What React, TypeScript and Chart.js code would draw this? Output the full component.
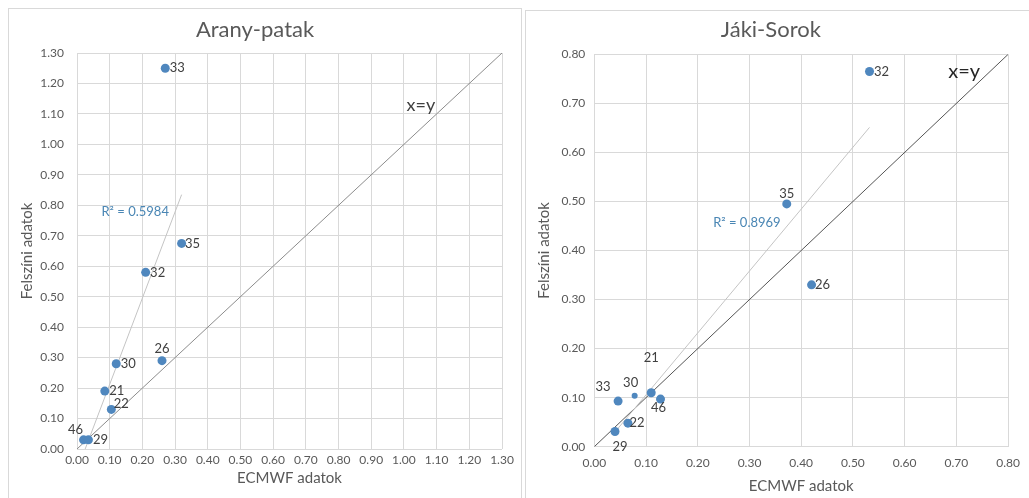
import React, { useEffect, useRef } from "react";
import { Chart, registerables } from "chart.js";
Chart.register(...registerables);

// ---------- shared texts ----------
const xAxisTitle = "ECMWF adatok";
const yAxisTitle = "Felszíni adatok";
const identityLabel = "x=y";
const tickStep = 0.1;

// ---------- Arany-patak ----------
const aranyTitle = "Arany-patak";
const aranyStations = ["33", "35", "32", "26", "30", "21", "22", "46", "29"];
const aranyEcmwf = [0.27, 0.32, 0.21, 0.26, 0.12, 0.085, 0.105, 0.02, 0.035];
const aranySurface = [1.25, 0.675, 0.58, 0.29, 0.28, 0.19, 0.13, 0.03, 0.03];
const aranyTrendX = [0.025, 0.32];
const aranyTrendY = [0, 0.835];
const aranyR2 = "R² = 0.5984";
const aranyAxisMax = 1.3;

// ---------- Jáki-Sorok ----------
const jakiTitle = "Jáki-Sorok";
const jakiStations = ["32", "35", "26", "33", "30", "21", "46", "22", "29"];
const jakiEcmwf = [0.532, 0.372, 0.42, 0.046, 0.078, 0.11, 0.128, 0.065, 0.04];
const jakiSurface = [0.765, 0.495, 0.33, 0.093, 0.104, 0.11, 0.097, 0.048, 0.031];
const jakiTrendX = [0.04, 0.532];
const jakiTrendY = [0.03, 0.651];
const jakiR2 = "R² = 0.8969";
const jakiAxisMax = 0.8;

const FONT = "Lato";
const TICK_COLOR = "#595959";
const GRID_COLOR = "#d9d9d9";
const POINT_COLOR = "#4f87be";
const TITLE_SIZE = 22;

type PanelCfg = {
  title: string;
  stations: string[];
  xs: number[];
  ys: number[];
  trendX: number[];
  trendY: number[];
  r2: string;
  max: number;
  left: number;
  top: number;
  width: number;
  height: number;
  padRight: number;
  yWidth: number;
  xHeight: number;
  titleTop: number;
  titleBottom: number;
  xTickPad: number;
  xTitlePad: number;
  yTickPad: number;
  yTitlePad: number;
  labelOffsets: number[][];
  pointRadii: number[];
  r2At: number[];
  idAt: number[];
  idFont: string;
  idColor: string;
  diagColor: string;
};

const aranyCfg: PanelCfg = {
  title: aranyTitle,
  stations: aranyStations,
  xs: aranyEcmwf,
  ys: aranySurface,
  trendX: aranyTrendX,
  trendY: aranyTrendY,
  r2: aranyR2,
  max: aranyAxisMax,
  left: 8,
  top: 8,
  width: 513,
  height: 492,
  padRight: 19,
  yWidth: 69,
  xHeight: 51,
  titleTop: 8.5,
  titleBottom: 45 - 8.5 - TITLE_SIZE * 1.2,
  xTickPad: 4,
  xTitlePad: 12.6,
  yTickPad: 13,
  yTitlePad: 10,
  labelOffsets: [[12, 0], [11, 0], [12, 0], [0, -12], [12, 0], [12, 0], [10, -6], [-8, -10], [12, 0]],
  pointRadii: [4.5, 4.5, 4.5, 4.5, 4.5, 4.5, 4.5, 4.5, 4.5],
  r2At: [0.178, 0.78],
  idAt: [1.052, 1.13],
  idFont: `18px ${FONT}`,
  idColor: "#404040",
  diagColor: "#8c8c8c",
};

const jakiCfg: PanelCfg = {
  title: jakiTitle,
  stations: jakiStations,
  xs: jakiEcmwf,
  ys: jakiSurface,
  trendX: jakiTrendX,
  trendY: jakiTrendY,
  r2: jakiR2,
  max: jakiAxisMax,
  left: 525,
  top: 10,
  width: 504,
  height: 490,
  padRight: 12.3,
  yWidth: 69.3,
  xHeight: 53.3,
  titleTop: 6.5,
  titleBottom: 44.3 - 6.5 - TITLE_SIZE * 1.2,
  xTickPad: 9,
  xTitlePad: 4.6,
  yTickPad: 9,
  yTitlePad: 10,
  labelOffsets: [[12, 0], [0, -10], [11, 0], [-15, -14], [-4, -13], [0, -35], [-2, 9], [9, 0], [5, 15]],
  pointRadii: [4.5, 4.5, 4.5, 4.5, 3, 4.5, 4.5, 4.5, 4.5],
  r2At: [0.295, 0.457],
  idAt: [0.715, 0.765],
  idFont: `20px ${FONT}`,
  idColor: "#262626",
  diagColor: "#555555",
};

function Panel({ cfg }: { cfg: PanelCfg }) {
  const ref = useRef<HTMLCanvasElement | null>(null);
  useEffect(() => {
    if (!ref.current) return;
    const labelPlugin = {
      id: "pointLabels",
      afterDatasetsDraw(chart: any) {
        const ctx = chart.ctx;
        const meta = chart.getDatasetMeta(0);
        ctx.save();
        ctx.textAlign = "center";
        ctx.textBaseline = "middle";
        ctx.font = `13px ${FONT}`;
        ctx.fillStyle = "#404040";
        meta.data.forEach((el: any, i: number) => {
          const off = cfg.labelOffsets[i] || [10, 0];
          ctx.fillText(cfg.stations[i], el.x + off[0], el.y + off[1]);
        });
        const xs = chart.scales.x;
        const ys = chart.scales.y;
        ctx.font = `13px ${FONT}`;
        ctx.fillStyle = "#4a86b4";
        ctx.fillText(cfg.r2, xs.getPixelForValue(cfg.r2At[0]), ys.getPixelForValue(cfg.r2At[1]));
        ctx.font = cfg.idFont;
        ctx.fillStyle = cfg.idColor;
        ctx.fillText(identityLabel, xs.getPixelForValue(cfg.idAt[0]), ys.getPixelForValue(cfg.idAt[1]));
        ctx.restore();
      },
    };

    const points = cfg.xs.map((x, i) => ({ x, y: cfg.ys[i] }));
    const trend = cfg.trendX.map((x, i) => ({ x, y: cfg.trendY[i] }));
    const diag = [
      { x: 0, y: 0 },
      { x: cfg.max, y: cfg.max },
    ];

    const chart = new Chart(ref.current, {
      type: "scatter",
      data: {
        datasets: [
          {
            label: "pontok",
            data: points,
            backgroundColor: POINT_COLOR,
            borderColor: POINT_COLOR,
            pointRadius: cfg.pointRadii,
            borderWidth: 0,
          },
          {
            label: "trend",
            data: trend,
            showLine: true,
            borderColor: "#c4c4c4",
            borderWidth: 1,
            pointRadius: 0,
          },
          {
            label: "x=y",
            data: diag,
            showLine: true,
            borderColor: cfg.diagColor,
            borderWidth: 1,
            pointRadius: 0,
          },
        ],
      } as any,
      options: {
        responsive: false,
        animation: false,
        devicePixelRatio: 1,
        layout: { padding: { left: 0, right: cfg.padRight, top: 0, bottom: 0 } },
        plugins: {
          legend: { display: false },
          tooltip: { enabled: false },
          title: {
            display: true,
            text: cfg.title,
            color: TICK_COLOR,
            font: { family: FONT, size: TITLE_SIZE, weight: "normal" },
            padding: { top: cfg.titleTop, bottom: cfg.titleBottom },
          },
        },
        scales: {
          x: {
            type: "linear",
            min: 0,
            max: cfg.max,
            ticks: {
              stepSize: tickStep,
              color: TICK_COLOR,
              font: { family: FONT, size: 12 },
              padding: cfg.xTickPad,
              maxRotation: 0,
              autoSkip: false,
              callback: (v: any) => Number(v).toFixed(2),
            },
            grid: { color: GRID_COLOR, drawTicks: false },
            border: { display: false },
            title: {
              display: true,
              text: xAxisTitle,
              color: TICK_COLOR,
              font: { family: FONT, size: 15 },
              padding: { top: 0, bottom: cfg.xTitlePad },
            },
            afterFit: (s: any) => {
              s.height = cfg.xHeight;
            },
          },
          y: {
            type: "linear",
            min: 0,
            max: cfg.max,
            ticks: {
              stepSize: tickStep,
              color: TICK_COLOR,
              font: { family: FONT, size: 12 },
              padding: cfg.yTickPad,
              autoSkip: false,
              callback: (v: any) => Number(v).toFixed(2),
            },
            grid: { color: GRID_COLOR, drawTicks: false },
            border: { display: false },
            title: {
              display: true,
              text: yAxisTitle,
              color: TICK_COLOR,
              font: { family: FONT, size: 15 },
              padding: { top: cfg.yTitlePad, bottom: 0 },
            },
            afterFit: (s: any) => {
              s.width = cfg.yWidth;
            },
          },
        },
      } as any,
      plugins: [labelPlugin],
    });
    return () => chart.destroy();
  }, [cfg]);

  return (
    <>
      <div
        style={{
          position: "absolute",
          left: cfg.left,
          top: cfg.top,
          width: cfg.width + 1,
          height: 520,
          border: "1px solid #d9d9d9",
          boxSizing: "border-box",
        }}
      />
      <canvas
        ref={ref}
        width={cfg.width}
        height={cfg.height}
        style={{ position: "absolute", left: cfg.left, top: cfg.top }}
      />
    </>
  );
}

export default function App() {
  return (
    <div
      style={{
        position: "absolute",
        left: 0,
        top: 0,
        width: 1029,
        height: 498,
        overflow: "hidden",
        background: "#ffffff",
      }}
    >
      <Panel cfg={aranyCfg} />
      <Panel cfg={jakiCfg} />
    </div>
  );
}
